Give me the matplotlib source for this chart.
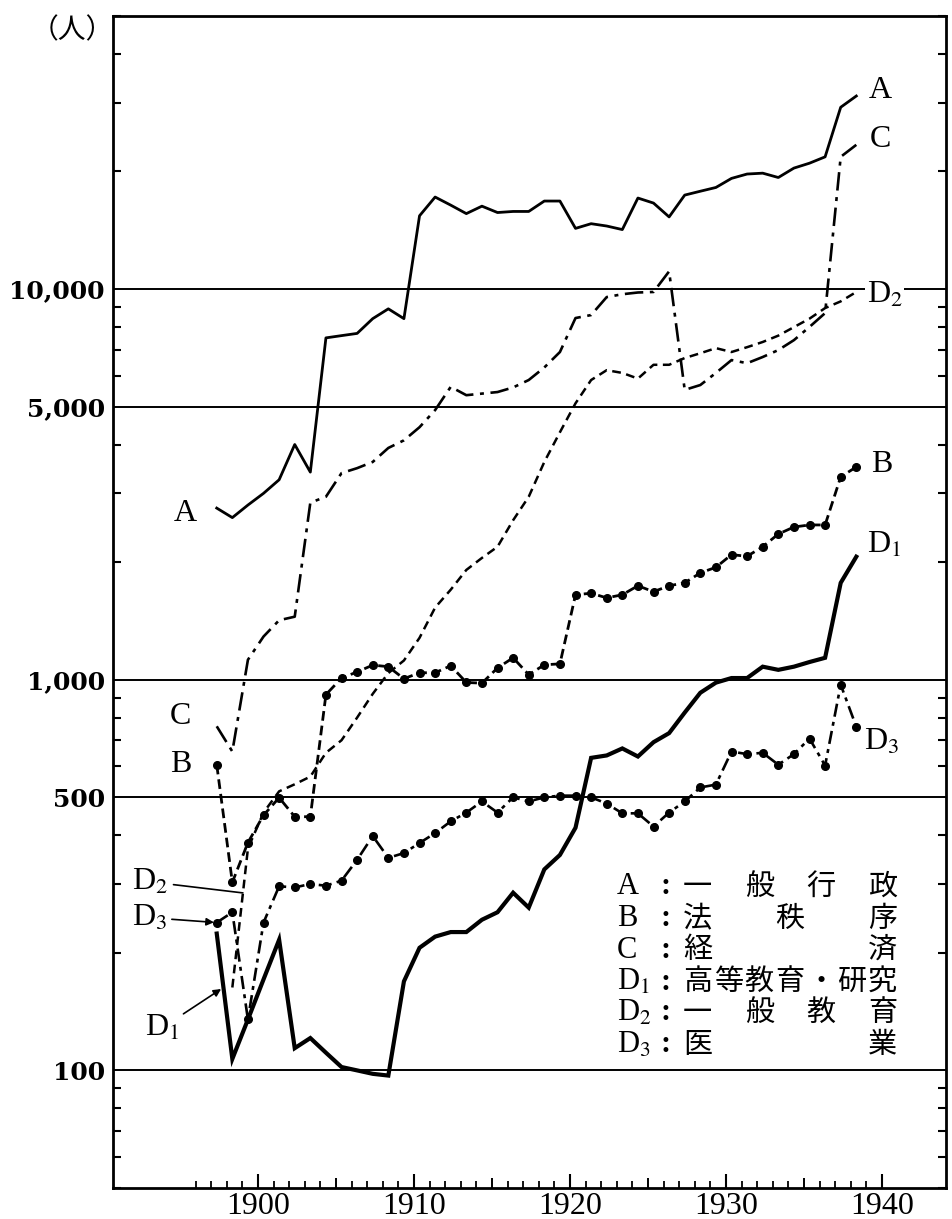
import numpy as np
import matplotlib
matplotlib.use('Agg')
import matplotlib.pyplot as plt
from matplotlib.ticker import FixedLocator, LogLocator, FuncFormatter, NullFormatter

plt.rcParams['font.family'] = ['Liberation Serif', 'Noto Sans CJK JP', 'DejaVu Sans']
plt.rcParams['mathtext.fontset'] = 'stix'

# 年次 (1897-1938)
years = np.arange(1897, 1939)
years_d2 = np.arange(1898, 1939)
# 年度値は年の途中に打点する
fy_shift = 0.35

# A: 一般行政
a_gyosei = [2750, 2600, 2800, 3000, 3250, 4000, 3400, 7500, 7600, 7700,
            8400, 8900, 8400, 15400, 17200, 16400, 15600, 16300, 15700, 15800,
            15800, 16800, 16800, 14300, 14700, 14500, 14200, 17100, 16600, 15300,
            17400, 17800, 18200, 19200, 19700, 19800, 19300, 20400, 21000, 21800,
            29200, 31200]
# B: 法秩序
b_chitsujo = [606, 303, 383, 450, 499, 446, 446, 916, 1010, 1047,
              1090, 1080, 1006, 1042, 1042, 1086, 984, 980, 1072, 1138,
              1030, 1092, 1098, 1650, 1665, 1620, 1650, 1740, 1680, 1740,
              1770, 1877, 1940, 2090, 2070, 2190, 2360, 2460, 2490, 2490,
              3305, 3505]
# C: 経済
c_keizai = [760, 655, 1125, 1290, 1420, 1450, 2840, 2940, 3380, 3480,
            3610, 3920, 4100, 4430, 4900, 5620, 5350, 5400, 5450, 5600,
            5850, 6300, 6900, 8430, 8580, 9540, 9700, 9800, 9830, 11100,
            5520, 5680, 6100, 6580, 6460, 6700, 6980, 7400, 8000, 8680,
            21800, 23400]
# D1: 高等教育・研究
d1_koto = [224, 107, 135, 171, 216, 114, 121, 111, 102, 100,
           98, 97, 169, 206, 220, 226, 226, 243, 254, 285,
           261, 327, 356, 418, 631, 640, 667, 636, 692, 730,
           824, 926, 983, 1010, 1010, 1080, 1060, 1080, 1110, 1138,
           1770, 2065]
# D2: 一般教育 (1898-)
d2_ippan = [163, 370, 457, 518, 540, 565, 650, 700, 800, 920,
            1040, 1120, 1280, 1530, 1700, 1910, 2050, 2190, 2560, 2940,
            3610, 4300, 5100, 5850, 6200, 6100, 5900, 6400, 6400, 6660,
            6850, 7060, 6900, 7100, 7320, 7600, 7990, 8400, 8940, 9300,
            9830]
# D3: 医業
d3_igyo = [239, 254, 135, 239, 296, 294, 300, 297, 306, 346,
           398, 350, 360, 382, 405, 434, 457, 488, 457, 500,
           488, 500, 505, 505, 500, 482, 455, 455, 421, 457,
           488, 530, 539, 655, 645, 650, 606, 645, 707, 603,
           971, 758]

legend_keys = ['A', 'B', 'C', 'D$_1$', 'D$_2$', 'D$_3$']
legend_names = ['一般行政', '法秩序', '経済', '高等教育・研究', '一般教育', '医業']

grid_values = [100, 500, 1000, 5000, 10000]
decade_ticks = [1900, 1910, 1920, 1930, 1940]

W, H = 952, 1219
fig = plt.figure(figsize=(W / 100, H / 100), dpi=100, facecolor='white')
ax = fig.add_axes([113 / W, 1 - 1188 / H, (946 - 113) / W, (1188 - 16) / H])
ax.set_yscale('log')
ax.set_ylim(50, 50000)
ax.set_xlim(1890.7, 1944.1)

x = years + fy_shift
x_d2 = years_d2 + fy_shift

# 系列の描画
ax.plot(x, a_gyosei, color='black', lw=2.0, zorder=3)
ax.plot(x, b_chitsujo, color='black', lw=2.0, dashes=(3.5, 1.8),
        marker='o', ms=5.5, zorder=3)
ax.plot(x, c_keizai, color='black', lw=1.9, dashes=(7, 2.5, 1.5, 2.5), zorder=3)
ax.plot(x, d1_koto, color='black', lw=3.0, solid_joinstyle='miter', zorder=3)
ax.plot(x_d2, d2_ippan, color='black', lw=1.8, dashes=(3.5, 2.2), zorder=3)
ax.plot(x, d3_igyo, color='black', lw=1.9, dashes=(5, 2, 1.5, 2),
        marker='o', ms=5.5, zorder=3)

# 目盛線
ax.yaxis.set_major_locator(FixedLocator(grid_values))
ax.yaxis.set_major_formatter(FuncFormatter(lambda v, p: f'{v:,.0f}'))
ax.yaxis.set_minor_locator(LogLocator(base=10, subs=np.arange(2, 10)))
ax.yaxis.set_minor_formatter(NullFormatter())
ax.grid(axis='y', which='major', color='black', lw=1.4, zorder=1)
ax.tick_params(axis='y', which='both', direction='in', left=True, right=True,
               width=1.5, pad=6)
ax.tick_params(axis='y', which='major', length=0)
ax.tick_params(axis='y', which='minor', length=5.5)
for lab in ax.get_yticklabels():
    lab.set_fontfamily('DejaVu Serif')
    lab.set_fontweight('bold')
    lab.set_fontsize(18)

ax.set_xticks(decade_ticks)
ax.set_xticklabels([str(y) for y in decade_ticks], fontsize=23)
ax.xaxis.set_minor_locator(FixedLocator([y for y in range(1896, 1940) if y % 5]))
ax.tick_params(axis='x', which='major', direction='in', length=10, width=1.5, pad=3)
ax.tick_params(axis='x', which='minor', direction='in', length=5, width=1.3)
sec = ax.secondary_xaxis('bottom')
sec.set_xticks(range(1905, 1940, 10))
sec.tick_params(direction='in', length=7.5, width=1.4, labelbottom=False)
sec.spines['bottom'].set_visible(False)

for s in ax.spines.values():
    s.set_linewidth(2.0)

# 系列名
lab_kw = dict(textcoords='offset points', ha='center', va='center',
              fontsize=23, zorder=4)
ax.annotate('A', (x[0], a_gyosei[0]), xytext=(-22.5, -4), **lab_kw)
ax.annotate('C', (x[0], c_keizai[0]), xytext=(-26, 7), **lab_kw)
ax.annotate('B', (x[0], b_chitsujo[0]), xytext=(-26, 0), **lab_kw)

arrow_kw = dict(arrowstyle='-|>', color='black', lw=1.2, mutation_scale=11,
                shrinkA=1, shrinkB=2)
# D2 の引出線 (1898-99 の線上)
t = 0.68
d2_x = x_d2[0] + t
d2_y = d2_ippan[0] * (d2_ippan[1] / d2_ippan[0]) ** t
ax.annotate('D$_2$', (d2_x, d2_y), xytext=(-67, 8),
            arrowprops=dict(arrowstyle='-', color='black', lw=1.2, shrinkA=2, shrinkB=0),
            **lab_kw)
ax.annotate('D$_3$', (x[0], d3_igyo[0]), xytext=(-48, 3.5),
            arrowprops=arrow_kw, **lab_kw)
t = 0.43
d1_x = x[0] + t
d1_y = d1_koto[0] * (d1_koto[1] / d1_koto[0]) ** t
ax.annotate('D$_1$', (d1_x, d1_y), xytext=(-44, -29), arrowprops=arrow_kw, **lab_kw)

ax.annotate('A', (x[-1], a_gyosei[-1]), xytext=(17.6, 4), **lab_kw)
ax.annotate('C', (x[-1], c_keizai[-1]), xytext=(17.6, 3.5), **lab_kw)
ax.annotate('D$_2$', (x_d2[-1], d2_ippan[-1]), xytext=(20.5, -2),
            bbox=dict(facecolor='white', edgecolor='none', pad=1), **lab_kw)
ax.annotate('B', (x[-1], b_chitsujo[-1]), xytext=(18.4, 1.5), **lab_kw)
ax.annotate('D$_1$', (x[-1], d1_koto[-1]), xytext=(19.8, 8.5), **lab_kw)
ax.annotate('D$_3$', (x[-1], d3_igyo[-1]), xytext=(18.4, -11), **lab_kw)

# 単位
fig.text(72 / W, 1 - 30 / H, '（人）', family='Noto Sans CJK JP', fontsize=20,
         ha='center', va='center')

# 凡例 (均等割付)
row_y = [887, 919, 950, 982, 1013, 1045]
for key, name, py in zip(legend_keys, legend_names, row_y):
    fy = 1 - py / H
    fig.text(617 / W, fy, key, fontsize=22, ha='left', va='center')
    fig.text(666 / W, fy, ':', fontsize=22, fontweight='bold', ha='center', va='center')
    xs = np.linspace(697.5, 882.5, len(name)) if len(name) > 1 else [697.5]
    for ch, px in zip(name, xs):
        fig.text(px / W, fy, ch, family='Noto Sans CJK JP', fontsize=21,
                 ha='center', va='center')

fig.savefig('out.png', dpi=100, facecolor='white')
